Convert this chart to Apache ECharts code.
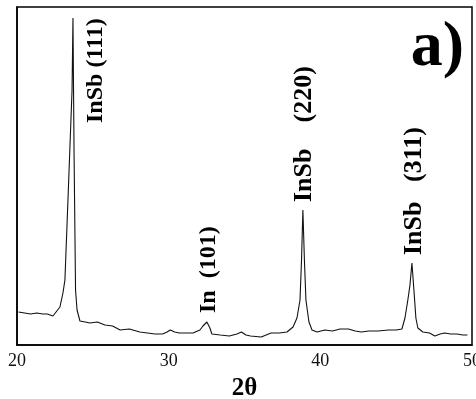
<!DOCTYPE html>
<html>
<head>
<meta charset="utf-8">
<script src="https://cdn.jsdelivr.net/npm/echarts@6/dist/echarts.min.js"></script>
<style>
  html, body { margin: 0; padding: 0; background: #fff; }
  #chart { width: 476px; height: 399px; }
</style>
</head>
<body>
<div id="chart"></div>
<script>
// XRD pattern of the InSb film: diffraction angle 2θ (deg) and intensity (a.u.)
const twoTheta = [
  20.1, 20.5, 20.9, 21.3, 21.7, 22.0, 22.37, 22.83, 23.03, 23.16, 23.36, 23.63, 23.69,
  23.76, 23.86, 23.96, 24.15, 24.5, 24.8, 25.3, 25.8, 26.3, 26.8, 27.4, 28.1, 28.6,
  29.1, 29.6, 29.9, 30.1, 30.4, 30.7, 31.2, 31.6, 32.06, 32.26, 32.52, 32.72, 32.85,
  33.4, 34.0, 34.5, 34.8, 35.1, 35.4, 36.1, 36.75, 37.3, 37.8, 38.2, 38.46, 38.66,
  38.76, 38.85, 38.95, 39.05, 39.25, 39.45, 39.78, 40.3, 40.8, 41.3, 41.85, 42.3,
  42.7, 43.2, 43.8, 44.5, 45.0, 45.38, 45.58, 45.77, 45.91, 46.04, 46.17, 46.3,
  46.43, 46.76, 47.2, 47.55, 47.9, 48.2, 48.6, 49.0, 49.4, 49.7
];
const intensity = [
  99, 96, 93, 96, 93, 93, 87, 114, 156, 195, 435, 765, 981,
  585, 165, 105, 72, 69, 66, 69, 60, 57, 45, 48, 39, 36,
  33, 33, 39, 45, 39, 36, 36, 36, 45, 57, 69, 51, 33,
  30, 27, 33, 39, 30, 27, 24, 36, 36, 39, 54, 81, 135,
  255, 405, 255, 135, 69, 45, 39, 45, 42, 48, 48, 42,
  39, 42, 42, 45, 45, 48, 81, 135, 180, 246, 165, 81,
  51, 39, 36, 27, 33, 36, 33, 33, 30, 30
];
const xTicks = [20, 30, 40, 50];

// Reflection labels, each tied to its peak
const peakLabels = ['InSb (111)', 'In  (101)', 'InSb    (220)', 'InSb   (311)'];
const peakAngles = [23.69, 32.52, 38.85, 46.04];
const peakHeights = [981, 69, 405, 246];

// Pixel offsets of each label's start from its peak top, and font sizes
const labelLayout = [
  { dx: 23, dy: 105, size: 24 },
  { dx: 2, dy: -9, size: 24 },
  { dx: 1, dy: -8, size: 26 },
  { dx: 2, dy: -8, size: 26 }
];

const chart = echarts.init(document.getElementById('chart'), null, { renderer: 'canvas' });
const serif = '"Liberation Serif", "DejaVu Serif", serif';

chart.setOption({
  animation: false,
  backgroundColor: '#fff',
  grid: {
    left: 17, right: 4, top: 7, bottom: 54,
    outerBoundsMode: 'none', containLabel: false,
    show: true, borderColor: '#000', borderWidth: 1.5, backgroundColor: 'transparent'
  },
  xAxis: {
    type: 'value', min: 20, max: 50, interval: 10,
    axisLine: { show: true, lineStyle: { color: '#000', width: 1.5 } },
    axisTick: { show: false },
    splitLine: { show: false },
    axisLabel: {
      margin: 7, color: '#111', fontFamily: serif, fontSize: 18,
      formatter: v => (xTicks.indexOf(v) >= 0 ? String(v) : '')
    },
    name: '2θ', nameLocation: 'middle', nameGap: 31,
    nameTextStyle: { fontFamily: serif, fontWeight: 'bold', fontSize: 25, color: '#000' }
  },
  yAxis: {
    type: 'value', min: 0, max: 1014,
    axisLine: { show: true, lineStyle: { color: '#000', width: 1.5 } },
    axisTick: { show: false }, axisLabel: { show: false }, splitLine: { show: false }
  },
  series: [{
    type: 'line',
    data: twoTheta.map((t, i) => [t, intensity[i]]),
    showSymbol: false,
    lineStyle: { color: '#111', width: 1.1 },
    silent: true
  }]
});

// Vertical reflection labels placed from the peaks through the axis scales
const graphics = peakLabels.map((txt, i) => {
  const p = chart.convertToPixel({ gridIndex: 0 }, [peakAngles[i], peakHeights[i]]);
  const l = labelLayout[i];
  return {
    type: 'text',
    x: p[0] + l.dx, y: p[1] + l.dy,
    rotation: Math.PI / 2,
    style: {
      text: txt, fill: '#000',
      font: 'bold ' + l.size + 'px ' + serif,
      textAlign: 'left', textVerticalAlign: 'middle',
      align: 'left', verticalAlign: 'middle'
    }
  };
});
graphics.push({
  type: 'text', right: 12, top: 16,
  style: { text: 'a)', fill: '#000', font: 'bold 64px ' + serif }
});
chart.setOption({ graphic: graphics });
</script>
</body>
</html>
